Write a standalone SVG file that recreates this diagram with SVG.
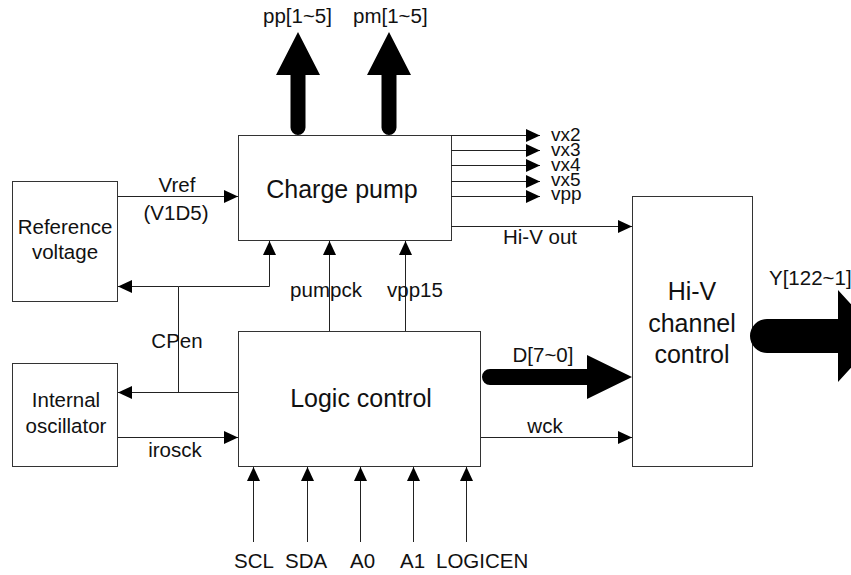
<svg xmlns="http://www.w3.org/2000/svg" width="851" height="575" viewBox="0 0 851 575">
<style>
  .box { fill: #fff; stroke: #333; stroke-width: 1; }
  .ln { fill: none; stroke: #222; stroke-width: 1; }
  .big { font-family: "Liberation Sans", Arial, sans-serif; font-size: 25px; fill: #111; text-anchor: middle; }
  .mid { font-family: "Liberation Sans", Arial, sans-serif; font-size: 20.5px; fill: #111; text-anchor: middle; }
  .lbl { font-family: "Liberation Sans", Arial, sans-serif; font-size: 20.5px; fill: #111; }
  .vx { font-family: "Liberation Sans", Arial, sans-serif; font-size: 19px; fill: #111; }
  .fat { fill: #000; stroke: none; }
</style>
<defs>
  <marker id="ah" markerUnits="userSpaceOnUse" markerWidth="16" markerHeight="14" refX="14" refY="6.5" orient="auto">
    <path d="M0,0 L14,6.5 L0,13 Z" fill="#000"/>
  </marker>
</defs>
<rect width="851" height="575" fill="#fff"/>

<g id="charge-pump">
  <rect class="box" x="238.5" y="135.5" width="213" height="105"/>
  <text class="big" x="342" y="198">Charge pump</text>
</g>
<g id="reference-voltage">
  <rect class="box" x="12.5" y="181.5" width="105" height="120"/>
  <text class="mid" x="65" y="234">Reference</text>
  <text class="mid" x="65" y="259">voltage</text>
</g>
<g id="internal-oscillator">
  <rect class="box" x="12.5" y="363.5" width="105" height="103"/>
  <text class="mid" x="66" y="407">Internal</text>
  <text class="mid" x="66" y="433">oscillator</text>
</g>
<g id="logic-control">
  <rect class="box" x="238.5" y="331.5" width="242" height="135"/>
  <text class="big" x="361" y="407">Logic control</text>
</g>
<g id="hiv-channel-control">
  <rect class="box" x="632.5" y="196.5" width="120" height="270"/>
  <text class="big" x="692" y="300">Hi-V</text>
  <text class="big" x="692" y="332">channel</text>
  <text class="big" x="692" y="363">control</text>
</g>

<g id="connectors">
  <line class="ln" x1="118" y1="196.5" x2="238" y2="196.5" marker-end="url(#ah)"/>
  <line class="ln" x1="238" y1="392.5" x2="118" y2="392.5" marker-end="url(#ah)"/>
  <line class="ln" x1="178.5" y1="286.5" x2="118" y2="286.5" marker-end="url(#ah)"/>
  <path class="ln" d="M178.5,392.5 V286.5 H269.5 V241" marker-end="url(#ah)"/>
  <line class="ln" x1="118" y1="437.5" x2="238" y2="437.5" marker-end="url(#ah)"/>
  <line class="ln" x1="329.5" y1="331" x2="329.5" y2="241" marker-end="url(#ah)"/>
  <line class="ln" x1="405.5" y1="331" x2="405.5" y2="241" marker-end="url(#ah)"/>
  <line class="ln" x1="451" y1="135.5" x2="540" y2="135.5" marker-end="url(#ah)"/>
  <line class="ln" x1="451" y1="150.5" x2="540" y2="150.5" marker-end="url(#ah)"/>
  <line class="ln" x1="451" y1="165.5" x2="540" y2="165.5" marker-end="url(#ah)"/>
  <line class="ln" x1="451" y1="181.5" x2="540" y2="181.5" marker-end="url(#ah)"/>
  <line class="ln" x1="451" y1="196.5" x2="540" y2="196.5" marker-end="url(#ah)"/>
  <line class="ln" x1="451" y1="226.5" x2="632" y2="226.5" marker-end="url(#ah)"/>
  <line class="ln" x1="481" y1="437.5" x2="632" y2="437.5" marker-end="url(#ah)"/>
  <line class="ln" x1="253.5" y1="542" x2="253.5" y2="467" marker-end="url(#ah)"/>
  <line class="ln" x1="307.5" y1="542" x2="307.5" y2="467" marker-end="url(#ah)"/>
  <line class="ln" x1="360.5" y1="542" x2="360.5" y2="467" marker-end="url(#ah)"/>
  <line class="ln" x1="413.5" y1="542" x2="413.5" y2="467" marker-end="url(#ah)"/>
  <line class="ln" x1="466.5" y1="542" x2="466.5" y2="467" marker-end="url(#ah)"/>
  <path class="fat" d="M290.5,127.5 V75 H276 L298,32 L320,75 H305.5 V127.5 A7.5,7.5 0 0 1 290.5,127.5 Z"/>
  <path class="fat" d="M381.5,127.5 V75 H367 L389,32 L411,75 H396.5 V127.5 A7.5,7.5 0 0 1 381.5,127.5 Z"/>
  <path class="fat" d="M490,369 H587 V355 L632,377 L587,399 V385 H490 A8,8 0 0 1 490,369 Z"/>
  <path class="fat" d="M767,319 H838 V290 L880,336 L838,382 V353 H767 A17,17 0 0 1 767,319 Z"/>
</g>

<g id="labels">
  <text class="lbl" x="263" y="23">pp[1~5]</text>
  <text class="lbl" x="353" y="23">pm[1~5]</text>
  <text class="vx" x="551" y="141">vx2</text>
  <text class="vx" x="551" y="156">vx3</text>
  <text class="vx" x="551" y="171">vx4</text>
  <text class="vx" x="551" y="186">vx5</text>
  <text class="vx" x="551" y="200">vpp</text>
  <text class="mid" x="540" y="244">Hi-V out</text>
  <text class="mid" x="177" y="192">Vref</text>
  <text class="mid" x="176" y="220">(V1D5)</text>
  <text class="mid" x="177" y="348">CPen</text>
  <text class="mid" x="175" y="457">irosck</text>
  <text class="mid" x="326" y="297">pumpck</text>
  <text class="mid" x="415" y="297">vpp15</text>
  <text class="mid" x="543" y="362">D[7~0]</text>
  <text class="mid" x="545" y="433">wck</text>
  <text class="lbl" x="769" y="285">Y[122~1]</text>
  <text class="lbl" x="234" y="568">SCL</text>
  <text class="lbl" x="285" y="568">SDA</text>
  <text class="lbl" x="350" y="568">A0</text>
  <text class="lbl" x="400" y="568">A1</text>
  <text class="lbl" x="436" y="568">LOGICEN</text>
</g>
</svg>
